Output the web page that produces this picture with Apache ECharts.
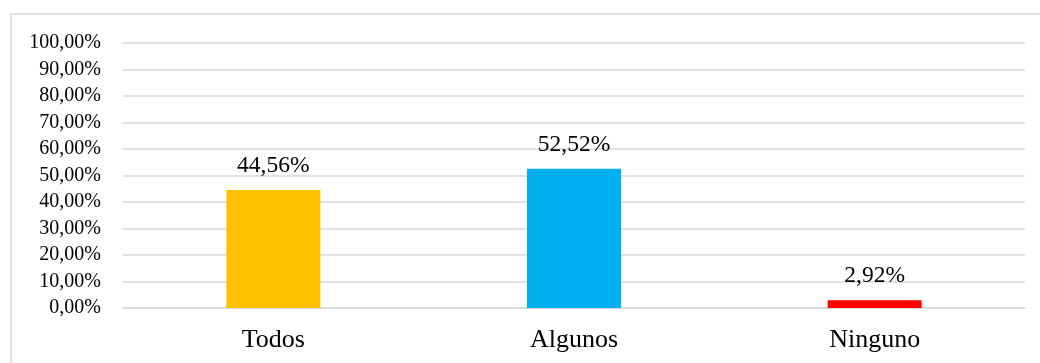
<!DOCTYPE html>
<html>
<head>
<meta charset="utf-8">
<script src="https://cdn.jsdelivr.net/npm/echarts@6/dist/echarts.min.js"></script>
<style>
  html, body { margin: 0; padding: 0; background: #fff; }
  #chart { width: 1040px; height: 363px; }
</style>
</head>
<body>
<div id="chart"></div>
<script>
// Share of responses per category (percent)
const categories = ['Todos', 'Algunos', 'Ninguno'];
const values = [44.56, 52.52, 2.92];
const barColors = ['#FFC000', '#00B0F0', '#FF0000'];
const yTicks = { min: 0, max: 100, interval: 10 };

const fmtPct = v => v.toFixed(2).replace('.', ',') + '%';
const serif = '"Liberation Serif", "DejaVu Serif", serif';

const chart = echarts.init(document.getElementById('chart'), null, { renderer: 'canvas' });
chart.setOption({
  animation: false,
  backgroundColor: '#fff',
  graphic: [{
    type: 'rect',
    shape: { x: 11, y: 14, width: 1040, height: 400 },
    style: { fill: 'none', stroke: '#D9D9D9', lineWidth: 1.5 },
    silent: true
  }],
  grid: { left: 123, right: 15, top: 43, bottom: 55, containLabel: false },
  xAxis: {
    type: 'category',
    data: categories,
    axisLine: { show: true, lineStyle: { color: '#D9D9D9', width: 1.5 } },
    axisTick: { show: false },
    axisLabel: { color: '#000', fontFamily: serif, fontSize: 26, margin: 19 }
  },
  yAxis: {
    type: 'value',
    min: yTicks.min,
    max: yTicks.max,
    interval: yTicks.interval,
    axisLine: { show: false },
    axisTick: { show: false },
    splitLine: { lineStyle: { color: '#D9D9D9', width: 1.5 } },
    axisLabel: { color: '#000', fontFamily: serif, fontSize: 20, margin: 22, formatter: v => fmtPct(v) }
  },
  series: [{
    type: 'bar',
    data: values.map((v, i) => ({ value: v, itemStyle: { color: barColors[i] } })),
    barWidth: 94,
    label: {
      show: true,
      position: 'top',
      distance: 12,
      color: '#000',
      fontFamily: serif,
      fontSize: 23.5,
      formatter: p => fmtPct(p.value)
    }
  }]
});
</script>
</body>
</html>
